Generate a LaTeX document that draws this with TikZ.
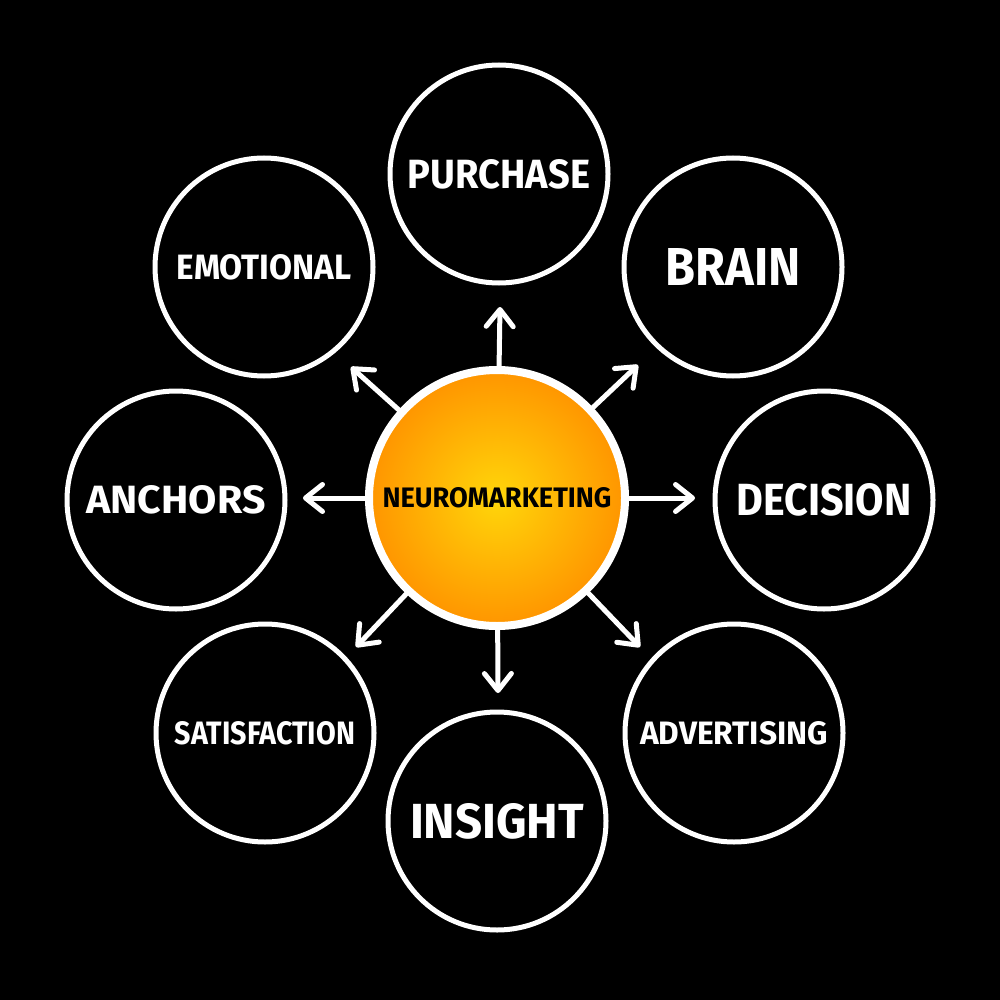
\documentclass[tikz,border=0pt]{standalone}
\usepackage{fontspec}
\setmainfont{Fira Sans}
\usetikzlibrary{arrows.meta}
\definecolor{sunin}{HTML}{FFD60A}
\definecolor{sunout}{HTML}{FF9500}
\newcommand{\fitlbl}[3]{\resizebox{#1pt}{#2pt}{\bfseries #3}}
\begin{document}
\begin{tikzpicture}[x=1pt,y=-1pt,
  bubble/.style={circle, draw=white, line width=5pt, minimum size=218pt, inner sep=0pt, text=white},
  hub/.style={circle, draw=white, line width=8pt, minimum size=256pt, inner sep=0pt,
    shading=radial, inner color=sunin, outer color=sunout, text=black},
  spoke/.style={draw=white, line width=5pt, line cap=round,
    -{Straight Barb[length=17pt,width=27pt,line cap=round,line join=round]}}]
\fill[black] (0,0) rectangle (1000,1000);
\useasboundingbox (0,0) rectangle (1000,1000);

\node[hub] (c) at (497,498) {\fitlbl{229}{20}{NEUROMARKETING}};

\node[bubble] (pur) at (499,174) {\fitlbl{182}{29}{PURCHASE}};
\node[bubble] (bra) at (733,267) {\fitlbl{135}{37}{BRAIN}};
\node[bubble] (dec) at (824,500) {\fitlbl{175}{32}{DECISION}};
\node[bubble] (adv) at (734,733) {\fitlbl{188}{23}{ADVERTISING}};
\node[bubble] (ins) at (497,821) {\fitlbl{174}{35}{INSIGHT}};
\node[bubble] (sat) at (265,733) {\fitlbl{180}{23}{SATISFACTION}};
\node[bubble] (anc) at (176,500) {\fitlbl{179}{28}{ANCHORS}};
\node[bubble] (emo) at (264,267) {\fitlbl{175}{25}{EMOTIONAL}};

\coordinate (tN)  at (500,307);
\coordinate (tNE) at (638,365);
\coordinate (tE)  at (695,498);
\coordinate (tSE) at (640,647);
\coordinate (tS)  at (498,693);
\coordinate (tSW) at (356,647);
\coordinate (tW)  at (303,498);
\coordinate (tNW) at (351,367);

\foreach \t in {tN,tNE,tE,tSE,tS,tSW,tW,tNW}
  \draw[spoke] (c) -- (\t);
\end{tikzpicture}
\end{document}
